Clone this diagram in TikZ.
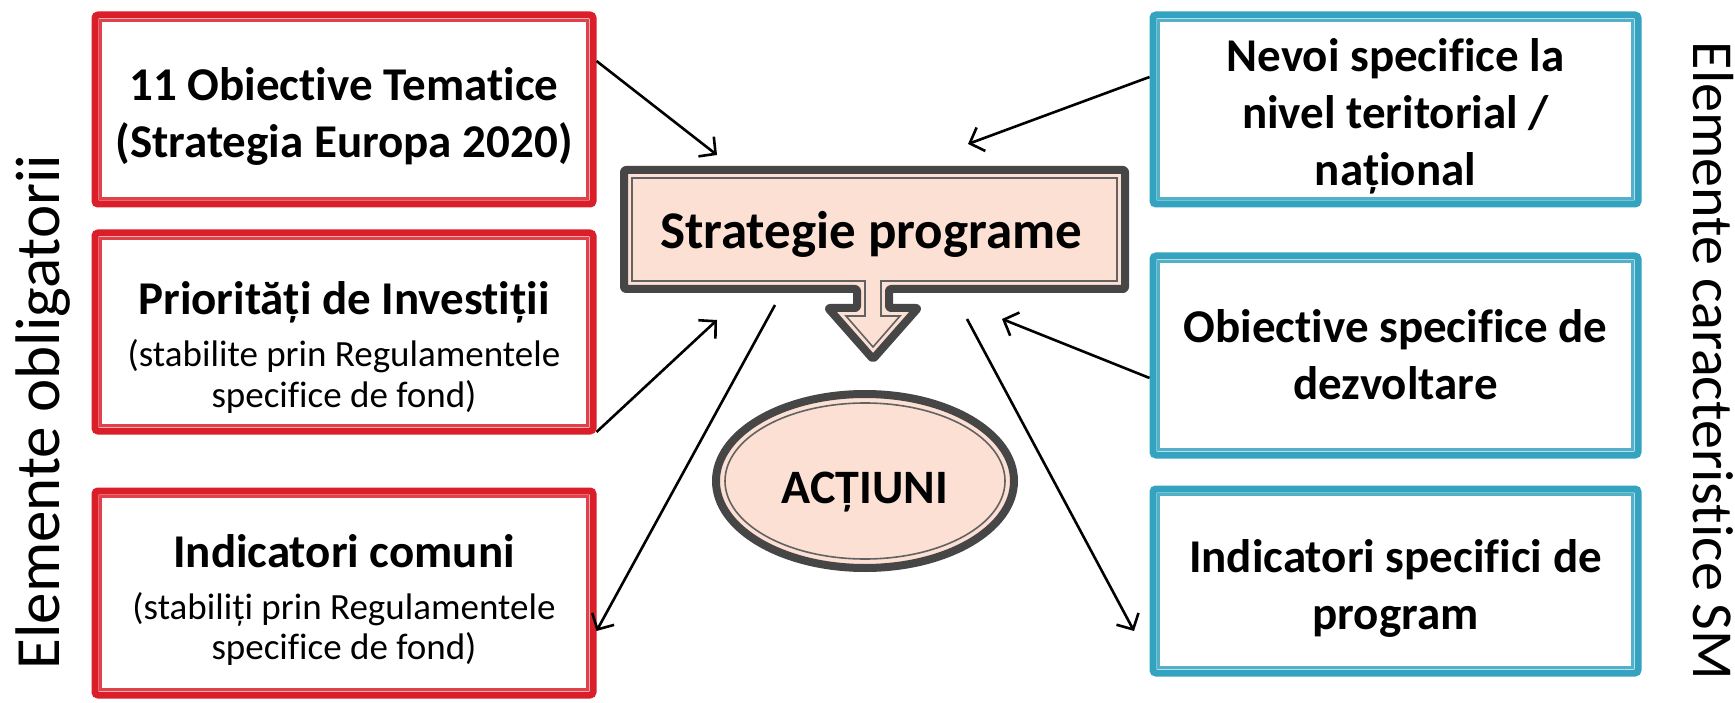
\documentclass[tikz,border=0pt]{standalone}
\usepackage{fontspec}
\setmainfont{Carlito}[Ligatures=NoCommon]
\usetikzlibrary{arrows.meta,calc}
\definecolor{cred}{HTML}{DA1F2A}
\definecolor{cblue}{HTML}{34A3BF}
\definecolor{cgray}{HTML}{464646}
\definecolor{cpeach}{HTML}{FBE0D3}
\begin{document}
\begin{tikzpicture}[x=1pt,y=-1pt,
  redbox/.style={draw=cred, line width=7pt, rounded corners=3pt, fill=white, inner sep=0pt},
  bluebox/.style={redbox, draw=cblue},
  innerred/.style={draw=cred!85, line width=2.2pt},
  innerblue/.style={draw=cblue!85, line width=2.2pt},
  conn/.style={line width=2.6pt, -{Straight Barb[length=12pt,width=25pt]}},
  bigf/.style={font=\fontsize{47}{57}\selectfont\bfseries, align=center, inner sep=0pt},
  mixf/.style={font=\fontsize{37}{41}\selectfont, align=center, inner sep=0pt},
  side/.style={inner sep=0pt},
]
\useasboundingbox (0,0) rectangle (1735,703);

% left boxes
\node[redbox, minimum width=498pt, minimum height=189pt] (l1) at (344,109.5) {};
\node[redbox, minimum width=498pt, minimum height=198pt] (l2) at (344,332) {};
\node[redbox, minimum width=498pt, minimum height=204pt] (l3) at (344,593) {};
\foreach \b in {l1,l2,l3}
  \draw[innerred] ($(\b.north west)+(9,9)$) rectangle ($(\b.south east)+(-9,-9)$);
\node[bigf] (l1t) at ($(l1)+(0,7)$) {11 Obiective Tematice\\(Strategia Europa 2020)};
\node[mixf] (l2t) at ($(l2)+(0,15)$)
  {{\fontsize{47}{57}\selectfont\bfseries Priorități de Investiții}\\[11pt]
   (stabilite prin Regulamentele\\specifice de fond)};
\node[mixf, font=\fontsize{37}{40}\selectfont] (l3t) at ($(l3)+(0,7)$)
  {{\fontsize{47}{57}\selectfont\bfseries Indicatori comuni}\\[12pt]
   (stabiliți prin Regulamentele\\specifice de fond)};

% right boxes
\node[bluebox, minimum width=485pt, minimum height=189pt] (r1) at (1395.5,109.5) {};
\node[bluebox, minimum width=485pt, minimum height=199pt] (r2) at (1395.5,355.5) {};
\node[bluebox, minimum width=485pt, minimum height=184pt] (r3) at (1395.5,581) {};
\foreach \b in {r1,r2,r3}
  \draw[innerblue] ($(\b.north west)+(9,9)$) rectangle ($(\b.south east)+(-9,-9)$);
\node[bigf] (r1t) at ($(r1)+(0,7)$) {Nevoi specifice la\\nivel teritorial /\\național};
\node[bigf] (r2t) at ($(r2)+(0,-1)$) {Obiective specifice de\\dezvoltare};
\node[bigf] (r3t) at ($(r3)+(0,7)$) {Indicatori specifici de\\program};

% strategy callout
\path[fill=cpeach, draw=cgray, line width=8pt, rounded corners=2pt, line join=round]
  (624,170) -- (1125,170) -- (1125,289) -- (889,289) -- (889,308) -- (918,308)
  -- (873,359) -- (828,308) -- (857,308) -- (857,289) -- (624,289) -- cycle;
\draw[cgray!85, line width=1.6pt, line join=miter]
  (632,178) -- (1117,178) -- (1117,281) -- (881,281) -- (881,316) -- (900,316)
  -- (873,347) -- (846,316) -- (865,316) -- (865,281) -- (632,281) -- cycle;
\node[font=\fontsize{53}{63}\selectfont\bfseries, inner sep=0pt] (strat) at (871,234) {Strategie programe};

% actions ellipse
\draw[fill=cpeach, draw=cgray, line width=8pt] (865,481) ellipse [x radius=149, y radius=87];
\draw[cgray!85, line width=1.6pt] (865,481) ellipse [x radius=140, y radius=78];
\node[font=\fontsize{48}{58}\selectfont\bfseries, inner sep=0pt] (act) at (865,492) {ACȚIUNI};

% side labels
\node[side, rotate=90, font=\fontsize{63}{75}\selectfont] (lbl) at (43,412) {Elemente obligatorii};
\node[side, rotate=-90, font=\fontsize{58}{70}\selectfont] (rbl) at (1713,361) {Elemente caracteristice SM};

% free ends near the strategy block
\coordinate (t1) at (717,155);
\coordinate (t2) at (717,320);
\coordinate (s3) at (775,305);
\coordinate (t4) at (968,144);
\coordinate (t5) at (1002,319);
\coordinate (s6) at (967,319);
\coordinate (e6) at (1134,631);

\draw[conn] (l1.east |- 0,61) -- (t1);
\draw[conn] (l2.east |- 0,432) -- (t2);
\draw[conn] (s3) -- (l3.east |- 0,631);
\draw[conn] (r1.west |- 0,77) -- (t4);
\draw[conn] (r2.west |- 0,378) -- (t5);
\draw[conn] (s6) -- (e6);
\end{tikzpicture}
\end{document}
